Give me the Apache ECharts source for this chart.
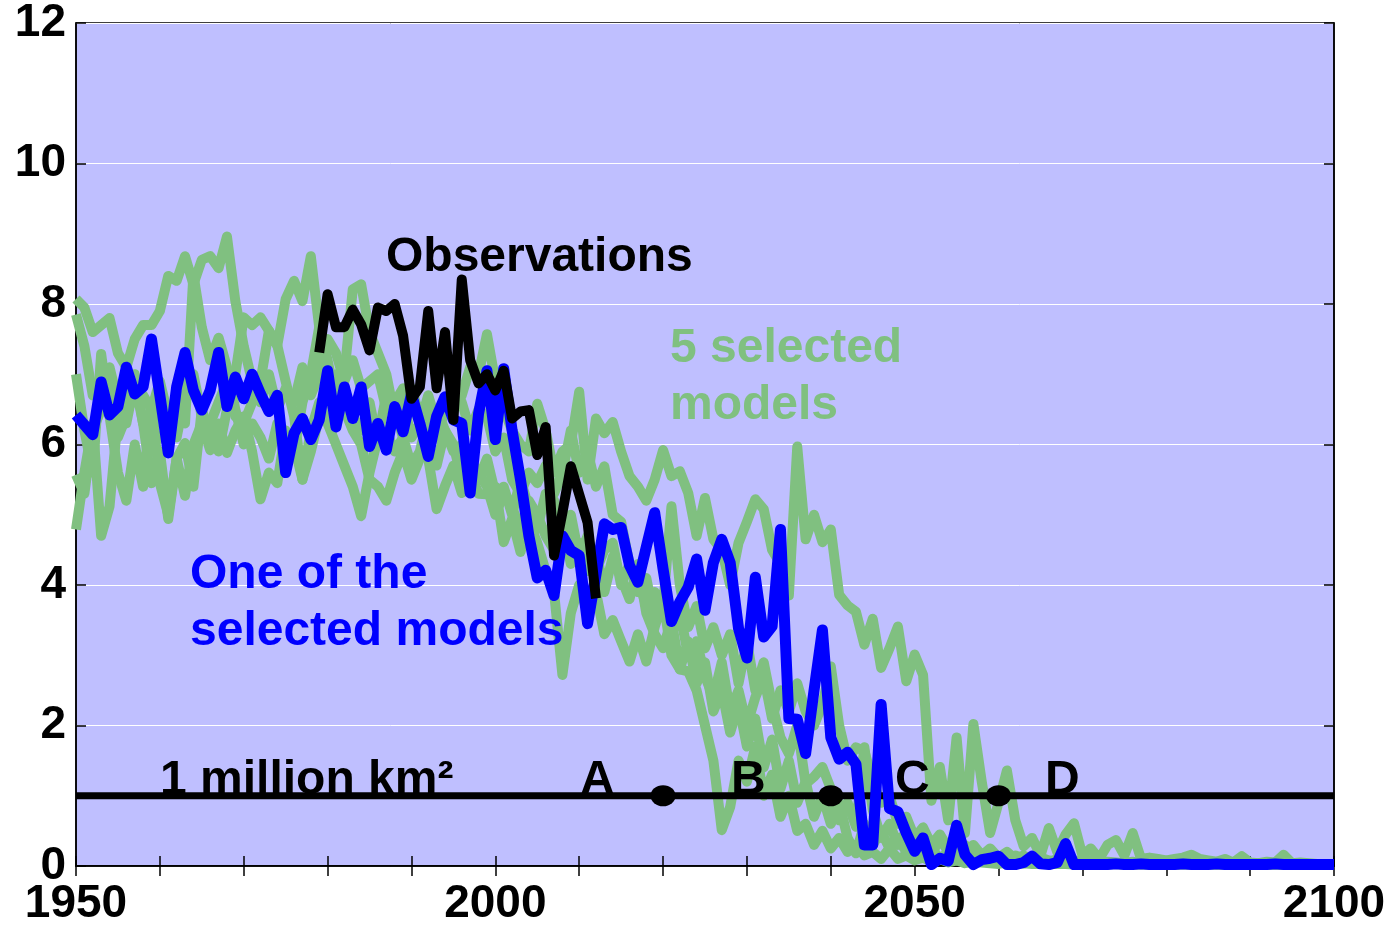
<!DOCTYPE html>
<html>
<head>
<meta charset="utf-8">
<script src="https://cdn.jsdelivr.net/npm/echarts@6/dist/echarts.min.js"></script>
<style>html,body{margin:0;padding:0;background:#fff;overflow:hidden;}#c{width:1396px;height:927px;}</style>
</head>
<body>
<div id="c"></div>
<script>
// ---------- DATA ----------
var startYear = 1950, endYear = 2100;
var obsStartYear = 1979;
var xTickLabels = [1950, 2000, 2050, 2100];
var yTickLabels = [0, 2, 4, 6, 8, 10, 12];
var threshold = 1;
var markerYears = [2020, 2040, 2060];
var markerLetters = ['A', 'B', 'C', 'D'];

var observations = [7.31, 8.14, 7.67, 7.67, 7.92, 7.71, 7.34, 7.95, 7.90, 8.00,
  7.55, 6.65, 6.82, 7.90, 6.80, 7.60, 6.35, 8.35, 7.20, 6.87,
  7.00, 6.77, 7.05, 6.37, 6.47, 6.49, 5.85, 6.25, 4.42, 5.03,
  5.69, 5.29, 4.89, 3.81];

var blueModel = [
  6.42, 6.28, 6.14, 6.89, 6.42, 6.54, 7.10, 6.72, 6.82, 7.50,
  6.70, 5.88, 6.82, 7.31, 6.77, 6.49, 6.77, 7.31, 6.54, 6.96,
  6.65, 7.00, 6.72, 6.47, 6.70, 5.60, 6.16, 6.37, 6.07, 6.35,
  7.05, 6.25, 6.82, 6.37, 6.82, 5.97, 6.30, 5.92, 6.54, 6.18,
  6.72, 6.30, 5.83, 6.40, 6.68, 6.35, 6.30, 5.31, 6.44, 7.05,
  6.07, 7.08, 6.20, 5.50, 4.70, 4.10, 4.21, 3.85, 4.70, 4.49,
  4.42, 3.45, 4.15, 4.87, 4.79, 4.82, 4.28, 4.04, 4.54, 5.03,
  4.23, 3.48, 3.76, 3.97, 4.37, 3.64, 4.32, 4.65, 4.32, 3.38,
  2.96, 4.11, 3.26, 3.41, 4.79, 2.10, 2.09, 1.60, 2.50, 3.36,
  1.83, 1.52, 1.62, 1.45, 0.30, 0.30, 2.30, 0.82, 0.77, 0.47,
  0.21, 0.40, 0.02, 0.11, 0.07, 0.58, 0.16, 0.02, 0.09, 0.11,
  0.14, 0.02, 0.02, 0.05, 0.14, 0.03, 0.02, 0.05, 0.32, 0.02,
  0.02, 0.02, 0.02, 0.02, 0.03, 0.02, 0.02, 0.03, 0.02, 0.02,
  0.02, 0.02, 0.03, 0.02, 0.02, 0.02, 0.03, 0.02, 0.02, 0.02,
  0.02, 0.02, 0.02, 0.03, 0.02, 0.02, 0.02, 0.02, 0.02, 0.02,
  0.02];

var greenModel1 = [
  8.07, 7.95, 7.60, 7.70, 7.80, 7.30, 7.10, 7.50, 7.70, 7.70,
  7.90, 8.40, 8.33, 8.68, 8.28, 8.63, 8.68, 8.51, 8.96, 8.04,
  7.40, 6.90, 6.60, 7.00, 6.50, 6.80, 6.60, 7.10, 6.70, 7.00,
  7.50, 7.30, 6.90, 7.20, 6.80, 6.90, 7.00, 6.50, 6.60, 6.80,
  6.60, 6.30, 6.70, 6.30, 6.60, 6.50, 6.70, 7.10, 7.00, 7.57,
  6.90, 6.50, 6.20, 6.00, 5.90, 6.58, 6.20, 5.60, 5.90, 6.00,
  6.75, 5.50, 6.37, 6.16, 6.32, 5.90, 5.55, 5.40, 5.20, 5.50,
  5.92, 5.55, 5.62, 5.31, 4.70, 5.24, 4.65, 4.50, 4.00, 4.60,
  4.90, 5.22, 5.08, 4.50, 4.30, 3.85, 5.97, 4.65, 5.00, 4.61,
  4.79, 3.86, 3.71, 3.62, 3.15, 3.52, 2.82, 3.10, 3.41, 2.63,
  3.01, 2.72, 0.93, 1.41, 0.65, 1.83, 0.47, 2.02, 1.20, 0.47,
  0.90, 1.36, 0.65, 0.28, 0.40, 0.15, 0.54, 0.20, 0.45, 0.61,
  0.15, 0.25, 0.10, 0.30, 0.37, 0.15, 0.47, 0.10, 0.12, 0.10,
  0.08, 0.10, 0.12, 0.16, 0.10, 0.08, 0.06, 0.10, 0.05, 0.14,
  0.05, 0.04, 0.06, 0.05, 0.16, 0.04, 0.05, 0.04, 0.03, 0.03,
  0.03];

var greenModel2 = [
  7.85, 7.40, 6.70, 6.90, 7.10, 6.60, 6.30, 6.90, 6.30, 6.00,
  6.10, 6.20, 6.50, 6.30, 8.42, 7.67, 7.20, 7.52, 7.10, 6.50,
  6.00, 6.30, 6.10, 5.80, 6.30, 6.00, 5.90, 6.60, 7.00, 7.67,
  7.00, 6.60, 6.80, 6.40, 6.20, 6.60, 6.00, 6.20, 5.90, 6.10,
  5.70, 5.90, 6.40, 6.10, 6.50, 6.70, 6.60, 6.20, 6.50, 6.40,
  5.90, 6.10, 5.50, 5.30, 5.60, 5.45, 5.70, 5.30, 5.60, 6.20,
  5.60, 5.90, 5.40, 5.69, 5.00, 4.90, 4.30, 4.10, 3.70, 3.90,
  3.70, 5.12, 4.00, 3.40, 3.70, 3.10, 3.40, 3.00, 3.30, 2.60,
  3.20, 2.50, 2.90, 2.30, 1.83, 1.60, 2.00, 1.17, 1.27, 1.41,
  1.10, 0.65, 0.90, 0.56, 1.69, 0.80, 0.40, 0.60, 0.30, 0.50,
  0.20, 0.30, 0.15, 0.40, 0.20, 0.10, 0.30, 0.15, 0.10, 0.20,
  0.12, 0.08, 0.15, 0.10, 0.06, 0.12, 0.08, 0.05, 0.10, 0.06,
  0.05, 0.08, 0.04, 0.06, 0.05, 0.04, 0.06, 0.04, 0.03, 0.05,
  0.04, 0.03, 0.05, 0.03, 0.04, 0.03, 0.03, 0.04, 0.03, 0.03,
  0.03, 0.04, 0.03, 0.03, 0.02, 0.03, 0.03, 0.02, 0.02, 0.02,
  0.02];

var greenModel3 = [
  5.57, 5.30, 6.20, 6.50, 6.90, 6.10, 6.40, 7.00, 6.30, 5.45,
  5.90, 4.94, 5.80, 5.27, 6.00, 6.30, 5.92, 6.30, 5.88, 6.20,
  6.40, 5.90, 5.22, 5.60, 5.45, 6.20, 6.00, 5.50, 6.20, 6.60,
  6.30, 6.00, 5.70, 5.40, 4.98, 5.60, 6.10, 6.70, 6.50, 6.10,
  6.80, 6.40, 5.80, 5.08, 5.41, 5.70, 5.31, 5.60, 5.30, 5.29,
  5.40, 4.61, 4.94, 4.47, 4.90, 4.60, 4.20, 3.90, 2.72, 3.60,
  4.00, 3.60, 3.90, 3.30, 3.50, 3.20, 2.91, 3.30, 2.91, 3.40,
  3.80, 3.00, 2.80, 2.77, 2.50, 2.00, 1.50, 0.51, 0.84, 1.50,
  1.20, 1.70, 1.00, 1.30, 0.70, 1.00, 0.50, 0.60, 0.30, 0.50,
  0.25, 0.40, 0.20, 0.30, 0.15, 0.20, 0.10, 0.25, 0.10, 0.15,
  0.08, 0.12, 0.06, 0.10, 0.05, 0.08, 0.04, 0.06, 0.05, 0.04,
  0.03, 0.05, 0.03, 0.04, 0.03, 0.03, 0.04, 0.03, 0.03, 0.02,
  0.02, 0.03, 0.02, 0.02, 0.03, 0.02, 0.02, 0.02, 0.02, 0.02,
  0.02, 0.02, 0.02, 0.02, 0.02, 0.02, 0.02, 0.02, 0.02, 0.02,
  0.02, 0.02, 0.02, 0.02, 0.02, 0.02, 0.02, 0.02, 0.02, 0.02,
  0.02];

var greenModel4 = [
  4.79, 5.60, 6.30, 4.70, 5.12, 6.40, 6.90, 6.60, 6.70, 6.50,
  6.90, 6.40, 6.10, 6.70, 7.00, 6.40, 6.30, 6.60, 6.90, 6.40,
  6.30, 6.60, 6.90, 7.62, 7.41, 8.07, 8.33, 8.04, 8.68, 7.67,
  7.20, 6.60, 7.00, 8.21, 8.28, 7.60, 7.30, 7.00, 6.40, 6.60,
  6.10, 6.30, 6.00, 6.50, 6.20, 5.90, 6.00, 5.70, 5.50, 5.80,
  5.30, 5.40, 5.00, 5.50, 5.10, 4.80, 5.30, 5.20, 4.60, 5.00,
  4.40, 4.70, 4.20, 4.50, 4.60, 4.00, 4.30, 3.90, 4.10, 3.50,
  3.80, 3.30, 3.60, 3.00, 3.20, 2.70, 2.40, 2.90, 2.20, 2.50,
  2.00, 2.40, 2.70, 2.10, 2.50, 2.20, 2.60, 2.20, 2.00, 2.30,
  2.84, 2.00, 1.50, 1.69, 1.64, 1.20, 0.90, 1.00, 0.60, 0.70,
  0.40, 0.55, 0.30, 0.45, 0.25, 0.35, 0.20, 0.30, 0.15, 0.25,
  0.12, 0.20, 0.10, 0.15, 0.08, 0.12, 0.06, 0.10, 0.05, 0.08,
  0.05, 0.06, 0.04, 0.05, 0.04, 0.04, 0.05, 0.03, 0.04, 0.03,
  0.03, 0.04, 0.03, 0.03, 0.03, 0.03, 0.02, 0.03, 0.02, 0.02,
  0.02, 0.02, 0.02, 0.02, 0.02, 0.02, 0.02, 0.02, 0.02, 0.02,
  0.02];

var greenModel5 = [
  7.00, 6.20, 5.60, 7.29, 6.40, 5.60, 5.20, 6.00, 5.40, 6.60,
  5.45, 5.00, 5.80, 6.02, 5.40, 6.50, 6.10, 5.90, 6.50, 7.00,
  7.81, 7.70, 7.81, 7.62, 7.41, 6.90, 6.40, 5.50, 5.90, 6.40,
  6.70, 7.00, 6.50, 6.20, 6.00, 5.50, 5.40, 5.20, 5.60, 5.90,
  5.50, 5.80, 6.00, 5.70, 6.20, 6.00, 5.50, 5.80, 5.60, 5.40,
  5.00, 5.30, 5.10, 4.80, 5.20, 5.00, 4.70, 4.50, 4.90, 4.30,
  4.60, 4.20, 4.50, 3.90, 4.40, 4.10, 3.80, 4.30, 3.60, 3.30,
  3.10, 3.50, 2.80, 3.20, 2.60, 2.90, 2.20, 2.50, 1.90, 2.30,
  1.70, 2.10, 1.40, 1.80, 1.10, 1.50, 0.90, 1.20, 0.70, 1.00,
  0.60, 0.90, 0.40, 0.18, 0.60, 0.30, 0.50, 0.25, 0.40, 0.20,
  0.30, 0.15, 0.25, 0.10, 0.20, 0.08, 0.15, 0.06, 0.10, 0.05,
  0.08, 0.05, 0.06, 0.04, 0.05, 0.04, 0.04, 0.03, 0.04, 0.03,
  0.03, 0.03, 0.03, 0.03, 0.03, 0.02, 0.03, 0.02, 0.02, 0.02,
  0.02, 0.02, 0.02, 0.02, 0.02, 0.02, 0.02, 0.02, 0.02, 0.02,
  0.02, 0.02, 0.02, 0.02, 0.02, 0.02, 0.02, 0.02, 0.02, 0.02,
  0.02];

// ---------- BUILD ----------
function pairs(vals, y0) {
  var out = [];
  for (var i = 0; i < vals.length; i++) out.push([y0 + i, vals[i]]);
  return out;
}
var FONT = '"Liberation Sans", Arial, sans-serif';
var GREEN = '#80c080';
var greens = [greenModel1, greenModel2, greenModel3, greenModel4, greenModel5];

var series = [];
greens.forEach(function (g) {
  series.push({
    type: 'line', data: pairs(g, startYear), showSymbol: false, silent: true, z: 2,
    lineStyle: { color: GREEN, width: 10, join: 'round', opacity: 1 }, animation: false
  });
});
series.push({
  type: 'line', data: [[startYear, threshold], [endYear, threshold]], showSymbol: false, z: 3,
  lineStyle: { color: '#000', width: 7, opacity: 1 }, animation: false
});
series.push({
  type: 'line', data: pairs(blueModel, startYear), showSymbol: false, z: 4,
  lineStyle: { color: '#0000ff', width: 11, join: 'round', opacity: 1 }, animation: false
});
series.push({
  type: 'line', data: pairs(observations, obsStartYear), showSymbol: false, z: 5,
  lineStyle: { color: '#000', width: 10, join: 'round', opacity: 1 }, animation: false
});
series.push({
  type: 'scatter', data: markerYears.map(function (y) { return [y, threshold]; }), z: 6,
  symbol: 'circle', symbolSize: [25, 21], itemStyle: { color: '#000', opacity: 1 }, animation: false
});

var axisCommon = {
  axisLine: { show: true, lineStyle: { color: '#000', width: 1.5 } },
  axisTick: { show: true, inside: true, length: 10, lineStyle: { color: '#000', width: 1.5 } }
};

var option = {
  backgroundColor: '#fff',
  animation: false,
  grid: { left: 76, top: 23, width: 1258, height: 850, show: true, backgroundColor: '#bfbfff', borderColor: '#000', borderWidth: 1.5 },
  xAxis: [
    Object.assign({
      type: 'value', min: startYear, max: endYear, interval: 10, position: 'bottom',
      splitLine: { show: false },
      axisLabel: { margin: 15, color: '#000', fontSize: 46, fontWeight: 'bold', fontFamily: FONT,
        formatter: function (v) { return xTickLabels.indexOf(v) >= 0 ? String(v) : ''; } }
    }, axisCommon),
    Object.assign({
      type: 'value', min: startYear, max: endYear, interval: 10, position: 'top',
      splitLine: { show: false }, axisLabel: { show: false }
    }, axisCommon)
  ],
  yAxis: [
    Object.assign({
      type: 'value', min: 0, max: 12, interval: 2, position: 'left',
      splitLine: { show: true, lineStyle: { color: '#ffffff', width: 1 } },
      axisLabel: { margin: 10, color: '#000', fontSize: 46, fontWeight: 'bold', fontFamily: FONT,
        formatter: function (v) { return yTickLabels.indexOf(v) >= 0 ? String(v) : ''; } }
    }, axisCommon),
    Object.assign({
      type: 'value', min: 0, max: 12, interval: 2, position: 'right',
      splitLine: { show: false }, axisLabel: { show: false }
    }, axisCommon)
  ],
  series: series,
  graphic: [
    { type: 'text', left: 386, top: 234, z: 100, style: { text: 'Observations', fill: '#000', font: 'bold 48px ' + FONT } },
    { type: 'text', left: 670, top: 325, z: 100, style: { text: '5 selected', fill: GREEN, font: 'bold 48px ' + FONT } },
    { type: 'text', left: 670, top: 382, z: 100, style: { text: 'models', fill: GREEN, font: 'bold 48px ' + FONT } },
    { type: 'text', left: 190, top: 551, z: 100, style: { text: 'One of the', fill: '#0000ff', font: 'bold 48px ' + FONT } },
    { type: 'text', left: 190, top: 608, z: 100, style: { text: 'selected models', fill: '#0000ff', font: 'bold 48px ' + FONT } },
    { type: 'text', left: 160, top: 757, z: 100, style: { text: '1 million km²', fill: '#000', font: 'bold 48px ' + FONT } },
    { type: 'text', left: 580, top: 757, z: 100, style: { text: markerLetters[0], fill: '#000', font: 'bold 48px ' + FONT } },
    { type: 'text', left: 731, top: 757, z: 100, style: { text: markerLetters[1], fill: '#000', font: 'bold 48px ' + FONT } },
    { type: 'text', left: 895, top: 757, z: 100, style: { text: markerLetters[2], fill: '#000', font: 'bold 48px ' + FONT } },
    { type: 'text', left: 1045, top: 757, z: 100, style: { text: markerLetters[3], fill: '#000', font: 'bold 48px ' + FONT } }
  ]
};

var chart = echarts.init(document.getElementById('c'), null, { renderer: 'canvas' });
chart.setOption(option);
</script>
</body>
</html>
